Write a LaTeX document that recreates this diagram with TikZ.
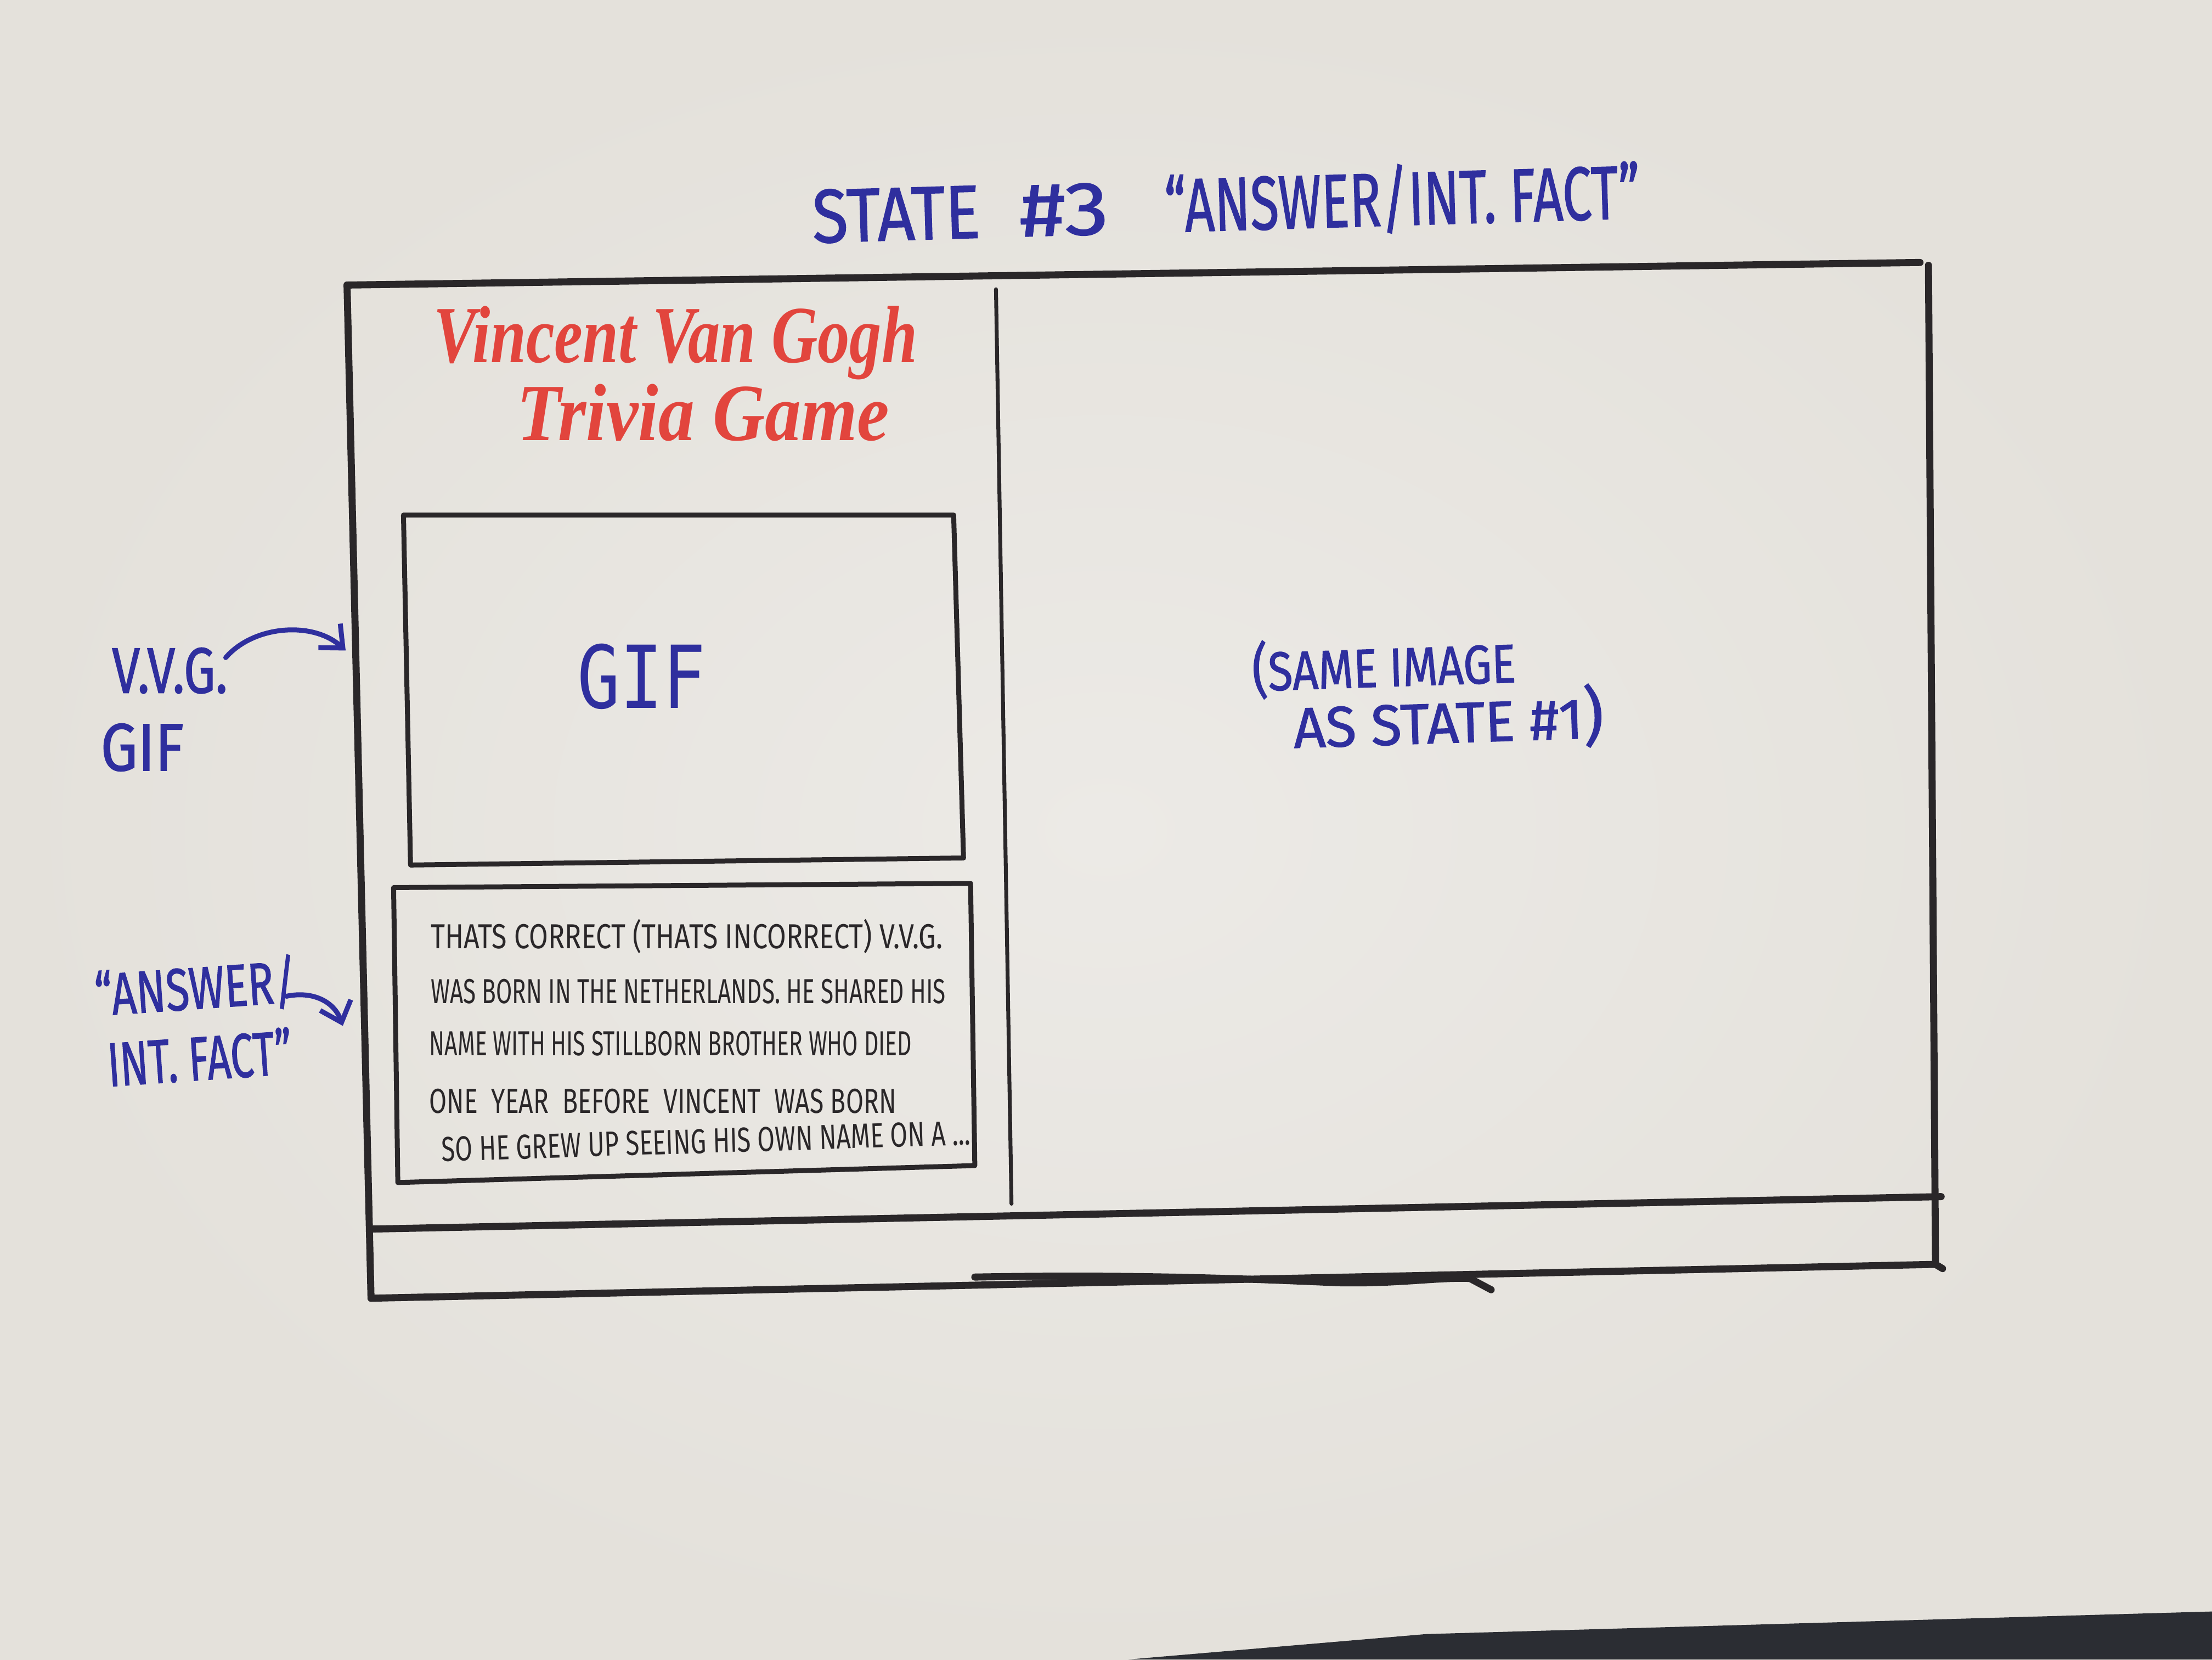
\documentclass[tikz,border=0pt]{standalone}
\usepackage{fontspec}
\usepackage{graphicx}
\usetikzlibrary{arrows.meta}

\newfontfamily\markerfont{Fira Sans}[FakeBold=1.3]
\newfontfamily\penfont{Fira Sans}
\newfontfamily\redfont{Liberation Serif}
\newfontfamily\gifmono{DejaVu Sans Mono}

\definecolor{paper}{HTML}{E4E1DB}
\definecolor{paperlight}{HTML}{ECEAE6}
\definecolor{ink}{HTML}{2A2729}
\definecolor{blueink}{HTML}{2F2F9E}
\definecolor{redink}{HTML}{E2453D}
\definecolor{carpet}{HTML}{2B2D33}

% stretch a text horizontally to a width given in picture units (0.2mm)
\newcommand\fitw[2]{\resizebox{\dimexpr 0.2mm*#1\relax}{\height}{#2}}
% horizontal gap in picture units
\newcommand\gapu[1]{\hspace*{\dimexpr 0.2mm*#1\relax}}

\tikzset{
  frameline/.style={draw=ink, line width=1mm, line cap=round, line join=round},
  boxline/.style={draw=ink, line width=0.7mm, line cap=round, line join=round},
  divline/.style={draw=ink, line width=0.55mm, line cap=round},
  bluelabel/.style={text=blueink, inner sep=0pt, anchor=base west},
  penline/.style={text=ink, inner sep=0pt, anchor=base west,
    font=\penfont\fontsize{14pt}{16pt}\selectfont},
  redline/.style={text=redink, inner sep=0pt, anchor=base west,
    font=\redfont\bfseries\itshape\fontsize{32.7pt}{38pt}\selectfont},
  blueArrow/.style={draw=blueink, line width=0.7mm, line cap=round,
    -{Straight Barb[length=2.6mm,width=4.6mm]}},
}

\begin{document}
\begin{tikzpicture}[x=0.2mm, y=-0.2mm]
  % sheet of paper and the floor below it
  \useasboundingbox (0,0) rectangle (1568,1176);
  \fill[paper] (0,0) rectangle (1568,1176);
  \shade[inner color=paperlight, outer color=paper] (0,0) rectangle (1568,1176);
  \fill[carpet] (800,1176) -- (1011,1158) -- (1568,1142) -- (1568,1176) -- cycle;

  % heading
  \node[bluelabel, rotate=1.7, font=\markerfont\fontsize{30.5pt}{36pt}\selectfont]
    (title) at (576,172)
    {\fitw{119}{STATE}\gapu{28}\fitw{63}{\#3}\gapu{40}\fitw{337}{“ANSWER/INT. FACT”}};

  % outer screen frame
  \coordinate (tl) at (246,202);
  \coordinate (tr) at (1361,186);
  \coordinate (rt) at (1367,188);
  \coordinate (rb) at (1372,896);
  \coordinate (rtick) at (1377,899);
  \coordinate (ml) at (263,871);
  \coordinate (mr) at (1376,848);
  \coordinate (bl) at (263,920);
  \draw[frameline] (tl) -- (tr);
  \draw[frameline] (tl) -- (bl);
  \draw[frameline] (rt) -- (rb) -- (rtick);
  \draw[frameline] (ml) -- (mr);
  \draw[frameline] (bl) -- (rb);
  \draw[frameline] (691,905) .. controls (800,903) and (880,906) .. (948,909)
    .. controls (990,910) and (1020,905) .. (1042,906) -- (1057,914);

  % panel divider
  \coordinate (dtop) at (706,205);
  \coordinate (dbot) at (717,853);
  \draw[divline] (dtop) -- (dbot);

  % game title
  \node[redline] (vangogh) at (307,257) {\fitw{343}{Vincent Van Gogh}};
  \node[redline] (trivia) at (366,312) {\fitw{264}{Trivia Game}};

  % GIF area
  \draw[boxline] (286,365) -- (676,365) -- (683,608) -- (291,613) -- cycle;
  \node[bluelabel, font=\gifmono\fontsize{35pt}{40pt}\selectfont]
    (giftext) at (409,502) {\fitw{91}{GIF}};

  % answer / interesting fact box
  \draw[boxline] (279,629) -- (688,626) -- (691,826) -- (282,838) -- cycle;
  \node[penline] (f1) at (305,672) {\fitw{363}{THATS CORRECT (THATS INCORRECT) V.V.G.}};
  \node[penline] (f2) at (305,711) {\fitw{365}{WAS BORN IN THE NETHERLANDS. HE SHARED HIS}};
  \node[penline] (f3) at (304,748) {\fitw{342}{NAME WITH HIS STILLBORN BROTHER WHO DIED}};
  \node[penline] (f4) at (304,789) {\fitw{331}{ONE\ \ YEAR\ \ BEFORE\ \ VINCENT\ \ WAS BORN}};
  \node[penline, rotate=1.8] (f5) at (313,823) {\fitw{375}{SO HE GREW UP SEEING HIS OWN NAME ON A ...}};

  % right panel note, two lines in one node (anchored on the last baseline)
  \node[bluelabel, rotate=1.9, align=left,
        font=\markerfont\fontsize{22pt}{23.5pt}\selectfont]
    (samenote) at (889,531)
    {\fitw{187}{\smash{\fontsize{24pt}{24pt}\selectfont(}SAME IMAGE}\\
     \gapu{28}\fitw{220}{\fontsize{23pt}{23.5pt}\selectfont AS STATE \#1\smash{\fontsize{26pt}{26pt}\selectfont)}}};

  % margin notes with arrows
  \node[bluelabel, font=\markerfont\fontsize{26pt}{30pt}\selectfont]
    (vvg) at (79,491) {\fitw{82}{V.V.G.}};
  \node[bluelabel, font=\markerfont\fontsize{27pt}{30pt}\selectfont]
    (gifnote) at (71,546) {\fitw{59}{GIF}};
  \node[bluelabel, rotate=4, font=\markerfont\fontsize{24pt}{28pt}\selectfont]
    (answer) at (68,720) {\fitw{143}{“ANSWER/}};
  \node[bluelabel, rotate=4, font=\markerfont\fontsize{25pt}{28pt}\selectfont]
    (intfact) at (77,770) {\fitw{131}{INT. FACT”}};

  \coordinate (gifarrowstart) at (160,466);
  \coordinate (gifarrowend) at (245,461);
  \draw[blueArrow] (gifarrowstart) .. controls (180,443) and (222,440) .. (gifarrowend);

  \coordinate (factarrowstart) at (203,706);
  \coordinate (factarrowend) at (243,727);
  \draw[blueArrow] (factarrowstart) .. controls (222,702) and (237,710) .. (factarrowend);
\end{tikzpicture}
\end{document}
